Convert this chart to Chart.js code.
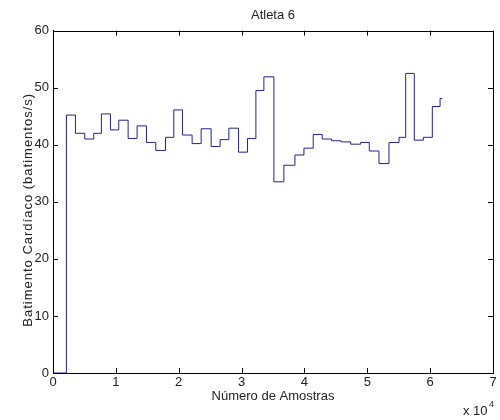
<!DOCTYPE html>
<html>
<head>
<meta charset="utf-8">
<script src="https://cdn.jsdelivr.net/npm/chart.js@4"></script>
<style>
  body { margin: 0; background: #fff; }
  #wrap { width: 500px; height: 420px; }
</style>
</head>
<body>
<div id="wrap"><canvas id="atleta" width="500" height="420"></canvas></div>
<script>
// where each step starts (number of samples) and the heart rate held from there
var sampleStarts = [0, 2130, 3570, 5050, 6480, 7700, 9140, 10460, 11950, 13380, 14870, 16350,
    17900, 19220, 20600, 22130, 23570, 25160, 26590, 27980, 29520, 30950, 32280, 33550,
    35140, 36730, 38490, 39920, 41400, 42830, 44330, 45810, 47360, 48950, 50320, 51860,
    53450, 55050, 56110, 57480, 58920, 60350, 61580, 61940];
var heartRate = [0, 45.2, 42.0, 41.0, 42.0, 45.4, 42.6, 44.3, 41.1, 43.3, 40.4, 39.0,
    41.3, 46.1, 41.7, 40.2, 42.8, 39.7, 40.9, 42.9, 38.7, 41.1, 49.5, 51.9,
    33.5, 36.4, 38.2, 39.4, 41.8, 41.0, 40.7, 40.5, 40.1, 40.4, 38.9, 36.7,
    40.4, 41.3, 52.5, 40.8, 41.3, 46.7, 48.1, 48.1];
var xTicks = [0, 10000, 20000, 30000, 40000, 50000, 60000, 70000];
var yTicks = [0, 10, 20, 30, 40, 50, 60];

var points = sampleStarts.map(function (x, i) { return { x: x, y: heartRate[i] }; });

var fontFam = "'Liberation Sans', Arial, sans-serif";

// matlab-like box with inward ticks, y label and the x 10^4 multiplier
var matlabBox = {
    id: 'matlabBox',
    afterDraw: function (chart) {
        var c = chart.ctx, a = chart.chartArea;
        var sx = chart.scales.x, sy = chart.scales.y;
        c.save();
        c.strokeStyle = '#000';
        c.lineWidth = 1;
        c.strokeRect(Math.round(a.left) + 0.5, Math.round(a.top) + 0.5,
            Math.round(a.right - a.left), Math.round(a.bottom - a.top));
        c.beginPath();
        xTicks.forEach(function (v) {
            var px = Math.round(sx.getPixelForValue(v)) + 0.5;
            c.moveTo(px, a.bottom); c.lineTo(px, a.bottom - 5);
            c.moveTo(px, a.top); c.lineTo(px, a.top + 5);
        });
        yTicks.forEach(function (v) {
            var py = Math.round(sy.getPixelForValue(v)) + 0.5;
            c.moveTo(a.left, py); c.lineTo(a.left + 5, py);
            c.moveTo(a.right, py); c.lineTo(a.right - 5, py);
        });
        c.stroke();

        c.fillStyle = '#222';
        c.font = '13px ' + fontFam;
        c.textBaseline = 'alphabetic';
        c.textAlign = 'left';
        c.fillText('x 10', 463, 415);
        c.font = '9px ' + fontFam;
        c.fillText('4', 489, 407);

        // y label, slightly spaced like the matlab render
        c.translate(28, (a.top + a.bottom) / 2 + 8);
        c.rotate(-Math.PI / 2);
        c.font = '13px ' + fontFam;
        c.textAlign = 'center';
        c.textBaseline = 'middle';
        if ('letterSpacing' in c) c.letterSpacing = '1px';
        c.fillText('Batimento Cardíaco (batimentos/s)', 0, 0);
        c.restore();
    }
};

var chart = new Chart(document.getElementById('atleta'), {
    type: 'line',
    data: {
        datasets: [{
            label: 'Atleta 6',
            data: points,
            stepped: 'before',
            borderColor: '#22228a',
            borderWidth: 1,
            pointRadius: 0,
            fill: false
        }]
    },
    options: {
        responsive: false,
        animation: false,
        layout: { padding: { top: 0, right: 7, left: 0, bottom: 0 } },
        plugins: {
            legend: { display: false },
            tooltip: { enabled: false },
            title: {
                display: true,
                fullSize: false,
                text: 'Atleta 6',
                color: '#222',
                font: { family: fontFam, size: 13, weight: 'normal' },
                padding: { top: 8, bottom: 7 }
            }
        },
        scales: {
            x: {
                type: 'linear',
                min: 0,
                max: 70000,
                afterBuildTicks: function (s) { s.ticks = xTicks.map(function (v) { return { value: v }; }); },
                afterFit: function (s) { s.height = 47; },
                ticks: {
                    color: '#222',
                    font: { family: fontFam, size: 13 },
                    padding: 2,
                    maxRotation: 0,
                    callback: function (v) { return v / 10000; }
                },
                grid: { display: false, drawTicks: false },
                border: { color: '#000' },
                title: {
                    display: true,
                    text: 'Número de Amostras',
                    color: '#222',
                    font: { family: fontFam, size: 13 },
                    padding: { top: 0, bottom: 16 }
                }
            },
            y: {
                min: 0,
                max: 60,
                afterBuildTicks: function (s) { s.ticks = yTicks.map(function (v) { return { value: v }; }); },
                afterFit: function (s) { s.width = 53; },
                ticks: {
                    color: '#222',
                    font: { family: fontFam, size: 13 },
                    padding: 4
                },
                grid: { display: false, drawTicks: false },
                border: { color: '#000' }
            }
        }
    },
    plugins: [matlabBox]
});
</script>
</body>
</html>
